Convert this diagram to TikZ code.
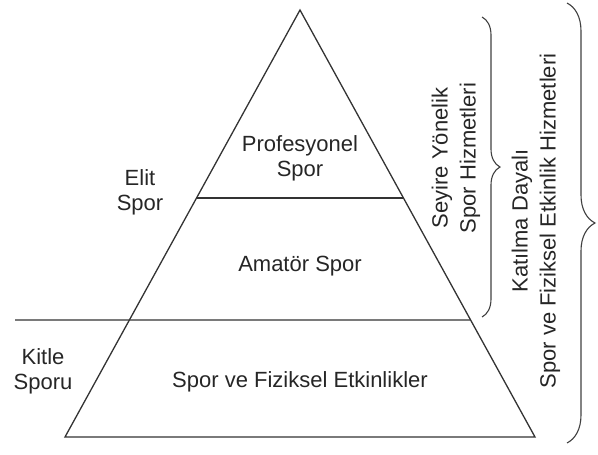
\documentclass[tikz,border=0pt]{standalone}
\usepackage{fontspec}
\setmainfont{Liberation Sans}
\usetikzlibrary{calc,decorations.pathreplacing}

\tikzset{
  edge line/.style={line width=1.3pt, black!80},
  label text/.style={font=\fontsize{22}{25}\selectfont, text=black!85, align=center, inner sep=0pt},
  side text/.style={label text, rotate=90, font=\fontsize{22}{28}\selectfont},
  curly/.style={line width=1.1pt, black!75, decorate, decoration={brace, amplitude=#1}}
}

\begin{document}
\begin{tikzpicture}[x=1pt, y=-1pt]
  \useasboundingbox (0,0) rectangle (598,455);

  %----- PYRAMID -----
  \coordinate (apex) at (300,10);
  \coordinate (bl) at (65,437);
  \coordinate (br) at (535,437);
  \draw[edge line] (apex) -- (br) -- (bl) -- cycle;

  %----- LAYER LINES -----
  \coordinate (midL) at ($(apex)!188/427!(bl)$);
  \coordinate (midR) at ($(apex)!188/427!(br)$);
  \draw[edge line] (midL) -- (midR);

  \coordinate (lowStart) at (15,320);
  \coordinate (lowR) at ($(apex)!310/427!(br)$);
  \draw[edge line] (lowStart) -- (lowR);

  %----- LABELS INSIDE -----
  \node[label text] (prof) at (300,158) {Profesyonel\\Spor};
  \node[label text] (amator) at (300,266) {Amat\"or Spor};
  \node[label text] (etkinlik) at (300,382) {Spor ve Fiziksel Etkinlikler};

  %----- LABELS LEFT -----
  \node[label text] (elit) at (140,192) {Elit\\Spor};
  \node[label text] (kitle) at (43,371) {Kitle\\Sporu};

  %----- BRACES -----
  \coordinate (smallTop) at (482,17);
  \coordinate (smallBot) at (482,317);
  \draw[curly=18pt] (smallTop) -- (smallBot);

  \coordinate (bigTop) at (567,3);
  \coordinate (bigBot) at (567,443);
  \draw[curly=28pt] (bigTop) -- (bigBot);

  %----- SIDE TEXTS -----
  \node[side text] (seyire) at (456,158) {Seyire Y\"onelik\\Spor Hizmetleri};
  \node[side text] (katilma) at (536,221) {Kat\i lma Dayal\i\\Spor ve Fiziksel Etkinlik Hizmetleri};
\end{tikzpicture}
\end{document}
